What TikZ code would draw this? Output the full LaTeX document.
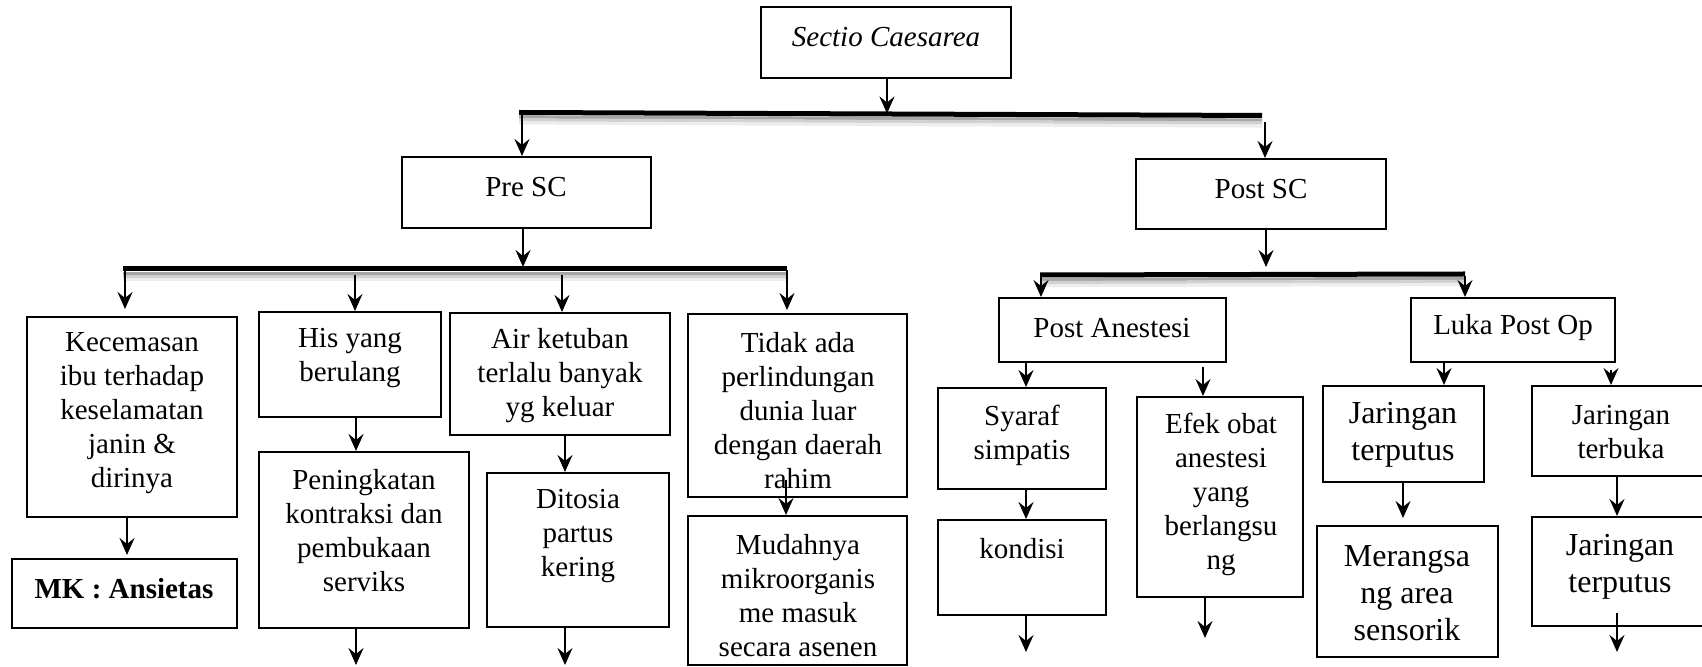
\documentclass[tikz,border=0pt]{standalone}
\usepackage{fontspec}
\setmainfont{Liberation Serif}
\usetikzlibrary{fit,arrows.meta}
\tikzset{
 bx/.style={draw, line width=1pt, inner sep=0pt},
 txt/.style={align=center, inner sep=0pt, font=\fontsize{14.5}{17}\selectfont},
 txtb/.style={align=center, inner sep=0pt, font=\fontsize{16}{18.5}\selectfont},
 arr/.style={line width=1.05pt, -{Stealth[length=8.5pt,width=7.5pt,inset=3pt]}},
 barline/.style={line width=2.5pt, line cap=butt},
 shdA/.style={line width=1.6pt, black!35},
 shdB/.style={line width=1.6pt, black!18},
 shdC/.style={line width=1.6pt, black!7},
}
\begin{document}
\begin{tikzpicture}[x=0.5pt,y=-0.5pt]
\useasboundingbox (0,0) rectangle (1702,667);
\clip (0,0) rectangle (1702,667);
\fill[white] (0,0) rectangle (1702,667);

% ---------- bars (with soft shadow) ----------
\coordinate (b1l) at (519,112.5); \coordinate (b1r) at (1262,115.5);
\coordinate (b2l) at (123,269);   \coordinate (b2r) at (787,269);
\coordinate (b3l) at (1040,275);  \coordinate (b3r) at (1465,274);
\foreach \a/\b/\c/\d in {519/112.5/1262/115.5, 123/269/787/269, 1040/275/1465/274}{
  \draw[shdA] (\a,\b+4.5) -- (\c,\d+4.5);
  \draw[shdB] (\a,\b+7.5) -- (\c,\d+7.5);
  \draw[shdC] (\a,\b+10.5) -- (\c,\d+10.5);
}
\draw[barline] (b1l) -- (b1r);
\draw[barline] (b2l) -- (b2r);
\draw[barline] (b3l) -- (b3r);

% ---------- boxes ----------
\node[bx, fit={(761,7) (1011,78)}] (sc) {};
\node[bx, fit={(402,157) (651,228)}] (pre) {};
\node[bx, fit={(1136,159) (1386,229)}] (post) {};
\node[bx, fit={(27,317) (237,517)}] (kec) {};
\node[bx, fit={(12,559) (237,628)}] (mk) {};
\node[bx, fit={(259,312) (441,417)}] (his) {};
\node[bx, fit={(259,452) (469,628)}] (pen) {};
\node[bx, fit={(450,313) (670,435)}] (air) {};
\node[bx, fit={(487,473) (669,627)}] (dit) {};
\node[bx, fit={(688,314) (907,497)}] (tid) {};
\node[bx, fit={(688,516) (907,665)}] (mud) {};
\node[bx, fit={(999,298) (1226,362)}] (pa) {};
\node[bx, fit={(938,388) (1106,489)}] (sy) {};
\node[bx, fit={(938,520) (1106,615)}] (kon) {};
\node[bx, fit={(1137,397) (1303,597)}] (efk) {};
\node[bx, fit={(1411,298) (1615,362)}] (luka) {};
\node[bx, fit={(1323,386) (1484,482)}] (jt1) {};
\node[bx, fit={(1317,526) (1498,657)}] (mer) {};
\node[bx, fit={(1532,386) (1712,476)}] (jtb) {};
\node[bx, fit={(1532,517) (1712,626)}] (jt2) {};

% ---------- texts ----------
\node[txt] (sc-t) at (886,37) {\itshape Sectio Caesarea};
\node[txt] (pre-t) at (526,187) {Pre SC};
\node[txt] (post-t) at (1261,189) {Post SC};
\node[txt] (kec-t) at (132,413) {Kecemasan\\ibu terhadap\\keselamatan\\janin \&\\dirinya};
\node[txt] (mk-t) at (124,589) {\bfseries MK : Ansietas};
\node[txt] (his-t) at (350,358) {His yang\\berulang};
\node[txt] (pen-t) at (364,531) {Peningkatan\\kontraksi dan\\pembukaan\\serviks};
\node[txt] (air-t) at (560,376) {Air ketuban\\terlalu banyak\\yg keluar};
\node[txt] (dit-t) at (578,536) {Ditosia\\partus\\kering};
\node[txt] (tid-t) at (798,411) {Tidak ada\\perlindungan\\dunia luar\\dengan daerah\\rahim};
\node[txt] (mud-t) at (798,596) {Mudahnya\\mikroorganis\\me masuk\\secara asenen};
\node[txt] (pa-t) at (1112,328) {Post Anestesi};
\node[txt] (sy-t) at (1022,435) {Syaraf\\simpatis};
\node[txt] (kon-t) at (1022,549) {kondisi};
\node[txt] (efk-t) at (1221,494) {Efek obat\\anestesi\\yang\\berlangsu\\ng};
\node[txt] (luka-t) at (1513,328) {Luka Post Op};
\node[txtb] (jt1-t) at (1403,435) {Jaringan\\terputus};
\node[txtb] (mer-t) at (1407,593) {Merangsa\\ng area\\sensorik};
\node[txt] (jtb-t) at (1621,432) {Jaringan\\terbuka};
\node[txtb] (jt2-t) at (1620,567) {Jaringan\\terputus};

% ---------- free arrow ends ----------
\coordinate (j1) at (887,113.5);
\coordinate (j2) at (522,114);
\coordinate (j3) at (1265,122);
\coordinate (j4) at (523,267);
\coordinate (k1) at (125,270);  \coordinate (k1e) at (125,309);
\coordinate (k2) at (355,275);
\coordinate (k3) at (562,275);
\coordinate (k4) at (787,270);  \coordinate (k4e) at (787,310);
\coordinate (m1) at (127,555);
\coordinate (o1) at (356,665);
\coordinate (o2) at (565,665);
\coordinate (t1) at (786,480);
\coordinate (j5) at (1266,267);
\coordinate (p1) at (1041,276);
\coordinate (p2) at (1465,276);
\coordinate (e1) at (1203,367);
\coordinate (o3) at (1026,652);
\coordinate (o4) at (1205,638);
\coordinate (f1) at (1611,370);
\coordinate (q1) at (1444,0);
\coordinate (r1) at (1403,518);
\coordinate (g1) at (1617,613);
\coordinate (o5) at (1617,652);

% ---------- connectors ----------
\draw[arr] (sc.south -| j1) -- (j1);
\draw[arr] (j2) -- (pre.north -| j2);
\draw[arr] (j3) -- (post.north -| j3);
\draw[arr] (pre.south -| j4) -- (j4);
\draw[arr] (k1) -- (k1e);
\draw[arr] (k2) -- (his.north -| k2);
\draw[arr] (k3) -- (air.north -| k3);
\draw[arr] (k4) -- (k4e);
\draw[arr] (kec.south -| m1) -- (m1);
\draw[arr] (his.south -| o1) -- (pen.north -| o1);
\draw[arr] (pen.south -| o1) -- (o1);
\draw[arr] (air.south -| o2) -- (dit.north -| o2);
\draw[arr] (dit.south -| o2) -- (o2);
\draw[arr] (t1) -- (mud.north -| t1);
\draw[arr] (post.south -| j5) -- (j5);
\draw[arr] (p1) -- (pa.north -| p1);
\draw[arr] (p2) -- (luka.north -| p2);
\draw[arr] (pa.south -| o3) -- (sy.north -| o3);
\draw[arr] (e1) -- (efk.north -| e1);
\draw[arr] (sy.south -| o3) -- (kon.north -| o3);
\draw[arr] (kon.south -| o3) -- (o3);
\draw[arr] (efk.south -| o4) -- (o4);
\draw[arr] (luka.south -| q1) -- (jt1.north -| q1);
\draw[arr] (f1) -- (jtb.north -| f1);
\draw[arr] (jt1.south -| r1) -- (r1);
\draw[arr] (jtb.south -| g1) -- (jt2.north -| g1);
\draw[arr] (g1) -- (o5);
\end{tikzpicture}
\end{document}
